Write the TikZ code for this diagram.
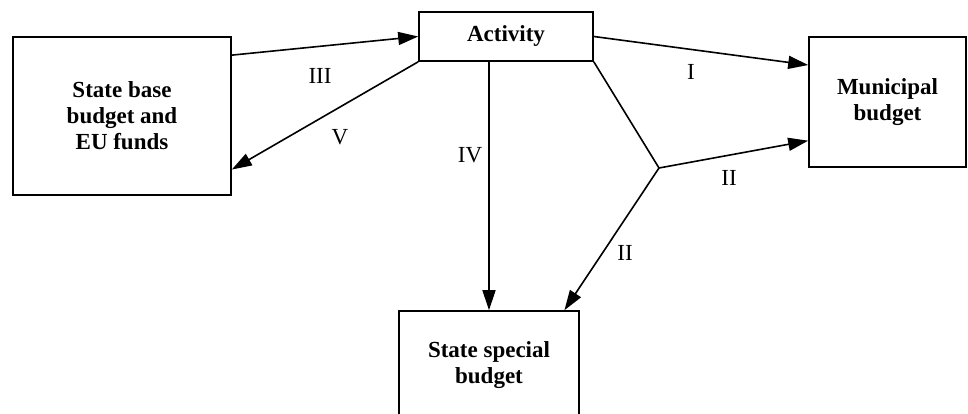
\documentclass[tikz,border=0pt]{standalone}
\usepackage{fontspec}
\setmainfont{Liberation Serif}
\usetikzlibrary{arrows.meta}

\begin{document}
\begin{tikzpicture}[x=1pt, y=-1pt,
    budget/.style={draw, line width=1.6pt, align=center, inner sep=0pt,
      font=\fontsize{23}{26}\selectfont\bfseries},
    flow/.style={line width=1.6pt, -{Triangle[length=20pt, width=13pt]}},
    roman/.style={inner sep=0pt, font=\fontsize{23}{26}\selectfont}]
  \useasboundingbox (0,0) rectangle (968,414);

  % budget boxes
  \node [budget, minimum width=218pt, minimum height=158pt] (base) at (122,116)
    {State base\\budget and\\EU funds};
  \node [budget, minimum width=174pt, minimum height=49pt] (act) at (506,36.5) {Activity};
  \node [budget, minimum width=157pt, minimum height=130pt] (muni) at (887.5,102)
    {Municipal\\budget};
  \node [budget, minimum width=180pt, minimum height=108pt] (spec) at (489,365)
    {State special\\budget};

  % split point of flow II
  \coordinate (split) at (659,168);

  % flows
  \draw [flow] (base.29) -- (act.west);
  \draw [flow] (act.south west) -- (base.-26);
  \draw [flow] (act.east) -- (muni.155);
  \draw [flow] (act.south -| spec.north) -- (spec.north);
  \draw [line width=1.6pt] (act.south east) -- (split);
  \draw [flow] (split) -- (muni.-154);
  \draw [flow] (split) -- (spec.36);

  % flow labels
  \node [roman] (lblIII) at (320,76) {III};
  \node [roman] (lblV) at (340,137) {V};
  \node [roman] (lblIV) at (470,155) {IV};
  \node [roman] (lblI) at (691,72) {I};
  \node [roman] (lblIIa) at (729,178) {II};
  \node [roman] (lblIIb) at (625,253) {II};
\end{tikzpicture}
\end{document}
